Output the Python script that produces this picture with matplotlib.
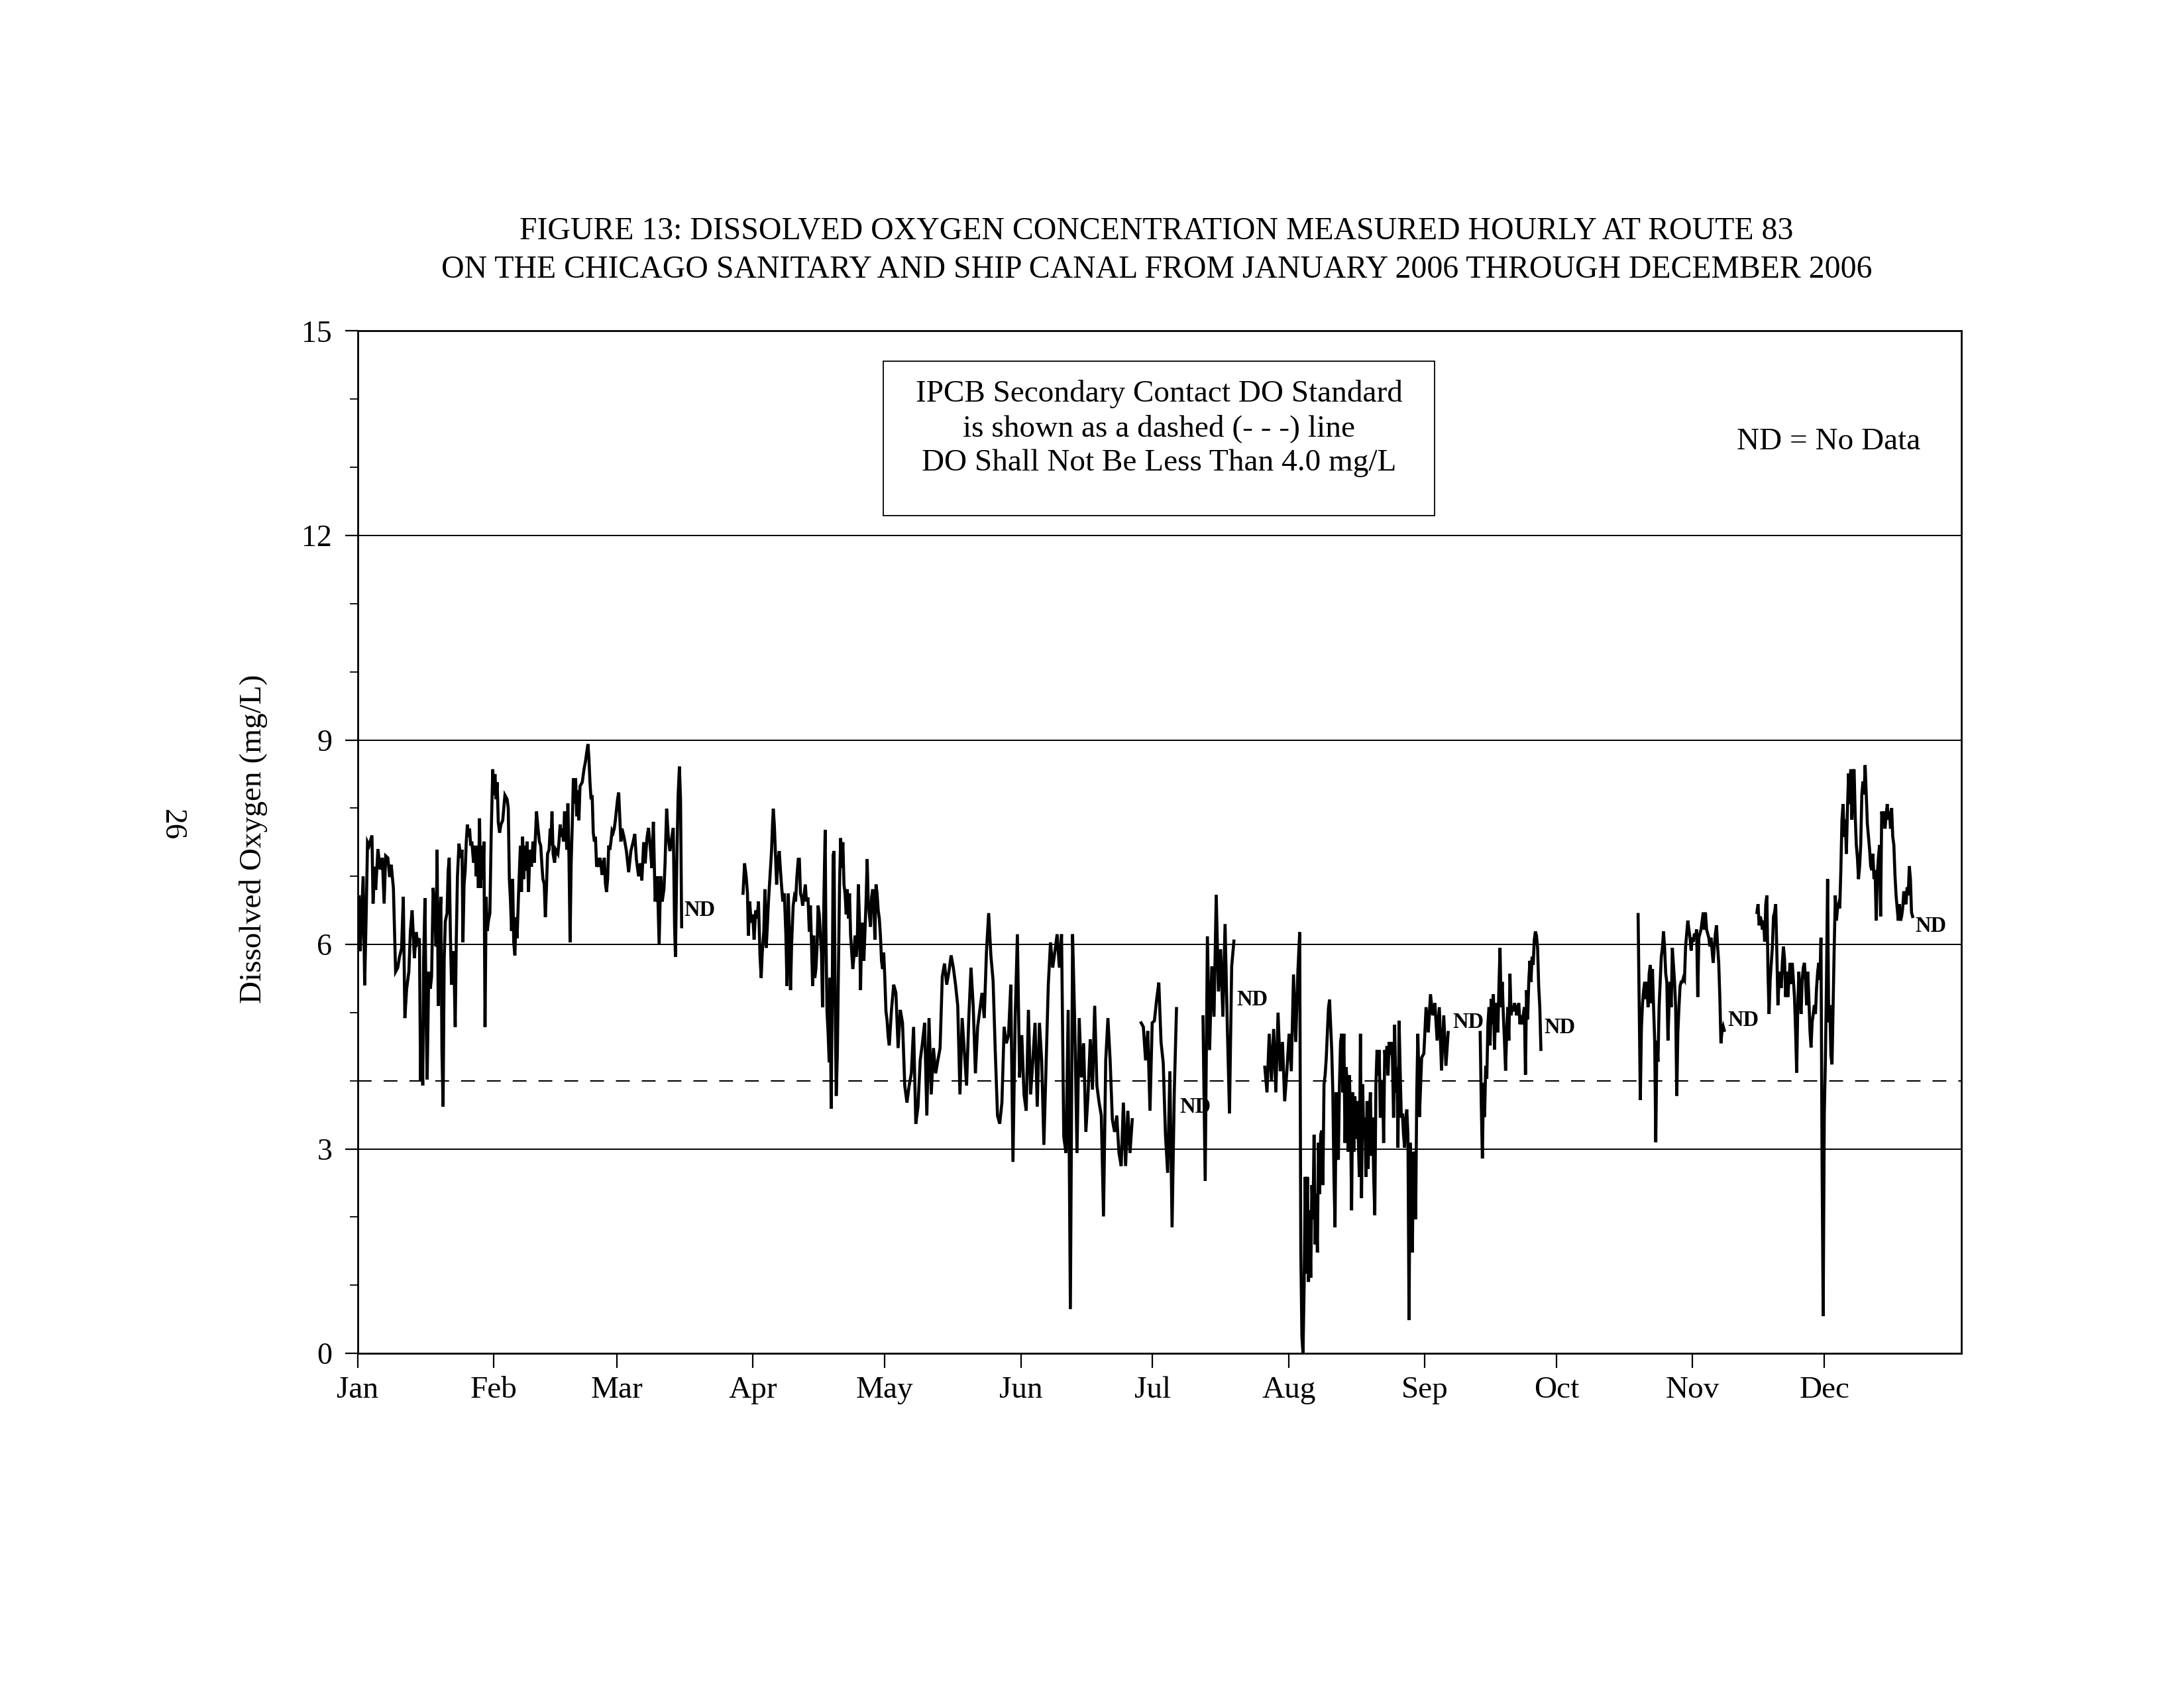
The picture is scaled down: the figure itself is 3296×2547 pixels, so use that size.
import numpy as np
import matplotlib
matplotlib.use('Agg')
import matplotlib.pyplot as plt
from matplotlib.patches import Rectangle

plt.rcParams['font.family'] = ['Liberation Serif', 'DejaVu Serif']

# ---------------- data ----------------
month_labels = ['Jan', 'Feb', 'Mar', 'Apr', 'May', 'Jun', 'Jul', 'Aug', 'Sep', 'Oct', 'Nov', 'Dec']
month_start_days = [0, 31, 59, 90, 120, 151, 181, 212, 243, 273, 304, 334]
y_major = [0, 3, 6, 9, 12, 15]
grid_levels = [3, 6, 9, 12]
do_standard = 4.0

# segment 1: Jan 1 - mid March  (day of year, DO mg/L)
seg1_pairs = [
    (0.30, 6.7), (0.55, 5.9), (1.21, 7.0), (1.56, 5.4), (1.91, 6.46), (2.21, 7.5), (2.57, 7.45), (3.22, 7.6),
    (3.47, 6.6), (3.82, 7.14), (4.07, 6.8), (4.58, 7.4), (5.08, 7.1), (5.58, 7.27), (5.99, 6.6), (6.34, 7.3),
    (6.84, 7.27), (7.24, 6.99), (7.60, 7.17), (8.10, 6.83), (8.60, 5.6), (9.10, 5.66), (9.46, 5.81), (9.96, 5.94),
    (10.36, 6.7), (10.71, 4.92), (11.12, 5.35), (11.62, 5.6), (11.97, 6.2), (12.37, 6.5), (12.88, 5.8), (13.28, 6.18),
    (13.63, 6.03), (14.03, 6.09), (14.29, 4.0), (14.49, 4.85), (14.79, 3.93), (14.99, 5.78), (15.29, 6.68), (15.54, 4.98),
    (15.79, 4.02), (16.15, 5.6), (16.50, 5.35), (16.80, 5.53), (17.15, 6.83), (17.51, 6.52), (17.81, 5.97), (18.06, 7.39),
    (18.31, 5.1), (18.66, 6.34), (18.91, 6.7), (19.16, 4.42), (19.42, 3.62), (19.67, 5.78), (19.92, 6.34), (20.32, 6.46),
    (20.57, 7.08), (20.82, 7.27), (21.08, 6.15), (21.33, 5.41), (21.68, 5.9), (21.93, 5.6), (22.18, 4.79), (22.43, 6.09),
    (22.69, 7.0), (23.04, 7.48), (23.44, 7.27), (23.74, 7.39), (23.94, 6.03), (24.20, 6.89), (24.45, 7.08), (24.70, 7.51),
    (24.95, 7.76), (25.20, 7.58), (25.45, 7.7), (25.70, 7.45), (25.96, 7.51), (26.36, 7.2), (26.71, 7.45), (26.96, 7.0),
    (27.21, 7.45), (27.46, 6.83), (27.72, 7.85), (27.97, 6.83), (28.22, 7.45), (28.47, 6.96), (28.72, 7.51), (28.97, 4.79),
    (29.23, 6.7), (29.48, 6.2), (29.73, 6.34), (30.08, 6.46), (30.38, 7.64), (30.73, 8.57), (30.99, 8.19), (31.24, 8.5),
    (31.49, 8.13), (31.74, 8.38), (31.99, 7.79), (32.29, 7.64), (32.60, 7.76), (33.00, 7.82), (33.50, 8.19), (34.00, 8.13),
    (34.26, 8.0), (34.51, 6.96), (34.76, 6.65), (35.01, 6.2), (35.26, 6.96), (35.51, 6.03), (35.77, 5.84), (36.02, 6.4),
    (36.27, 6.09), (36.62, 6.77), (37.02, 7.45), (37.27, 6.77), (37.53, 7.58), (37.78, 6.96), (38.03, 7.45), (38.33, 7.08),
    (38.53, 7.51), (38.88, 6.77), (39.19, 7.39), (39.54, 7.14), (39.89, 7.51), (40.19, 7.2), (40.44, 7.58), (40.69, 7.95),
    (41.05, 7.7), (41.35, 7.51), (41.65, 7.45), (41.95, 7.14), (42.15, 6.96), (42.45, 6.89), (42.71, 6.4), (42.96, 6.83),
    (43.21, 7.33), (43.56, 7.39), (43.81, 7.7), (43.96, 7.45), (44.22, 7.95), (44.47, 7.33), (44.82, 7.2), (45.07, 7.39),
    (45.57, 7.33), (45.82, 7.51), (46.08, 7.76), (46.33, 7.58), (46.58, 7.7), (46.83, 7.51), (47.08, 7.95), (47.33, 7.76),
    (47.59, 7.39), (47.84, 8.07), (48.09, 7.27), (48.34, 6.03), (48.59, 7.2), (48.84, 7.76), (49.09, 8.44), (49.35, 8.07),
    (49.60, 8.44), (49.85, 7.88), (50.10, 8.26), (50.35, 7.82), (50.60, 8.32), (51.11, 8.38), (51.51, 8.57), (51.86, 8.69),
    (52.11, 8.81), (52.41, 8.94), (52.62, 8.75), (52.87, 8.38), (53.12, 8.13), (53.37, 8.19), (53.62, 7.64), (53.87, 7.51),
    (54.12, 7.58), (54.38, 7.14), (54.63, 7.2), (54.88, 7.14), (55.13, 7.27), (55.38, 7.17), (55.63, 7.02), (55.89, 7.2),
    (56.14, 7.27), (56.39, 6.89), (56.64, 6.77), (56.89, 6.96), (57.14, 7.45), (57.39, 7.39), (57.65, 7.51), (57.90, 7.67),
    (58.15, 7.64), (58.40, 7.7), (58.65, 7.82), (58.90, 7.98), (59.15, 8.13), (59.41, 8.23), (59.66, 7.88), (59.91, 7.51),
    (60.16, 7.7), (60.67, 7.56), (61.17, 7.37), (61.68, 7.06), (62.18, 7.37), (62.68, 7.5), (63.08, 7.62), (63.44, 7.25),
    (63.94, 7.0), (64.34, 7.19), (64.69, 6.94), (65.10, 7.5), (65.45, 7.19), (65.85, 7.56), (66.20, 7.71), (66.60, 7.43),
    (66.96, 7.12), (67.31, 7.8), (67.71, 6.63), (68.21, 7.0), (68.62, 6.0), (68.97, 7.0), (69.32, 6.63), (69.72, 6.81),
    (69.97, 7.19), (70.33, 7.99), (70.73, 7.56), (71.08, 7.37), (71.48, 7.56), (71.84, 7.71), (72.14, 6.26), (72.34, 5.82),
    (72.64, 7.19), (72.94, 8.18), (73.24, 8.61), (73.50, 8.12), (73.75, 6.26),
]

# segment 2: end of March - late June (first part as pairs, then regular half-day readings)
seg2a_pairs = [
    (87.73, 6.75), (88.08, 7.19), (88.44, 7.0), (88.74, 6.75), (88.94, 6.13), (89.24, 6.63), (89.59, 6.32), (89.94, 6.44),
    (90.25, 6.07), (90.60, 6.5), (90.95, 6.38), (91.25, 6.63), (91.60, 5.82), (91.86, 5.51), (92.11, 5.88), (92.46, 6.19),
    (92.71, 6.81), (93.01, 5.95), (93.26, 6.26), (93.52, 6.63), (93.87, 7.0), (94.22, 7.37), (94.47, 7.8), (94.62, 7.99),
    (94.87, 7.74), (95.13, 7.31), (95.38, 6.88), (95.63, 7.19), (95.98, 7.37), (96.28, 7.06), (96.48, 6.88), (96.79, 6.63),
    (97.14, 6.75), (97.49, 6.13), (97.74, 5.39), (98.04, 6.75), (98.30, 6.13), (98.55, 5.33), (98.80, 6.01), (99.15, 6.57),
    (99.40, 6.69), (99.70, 6.63), (100.0, 7.0), (100.31, 7.25), (100.56, 7.25), (100.81, 6.75), (101.06, 6.69), (101.31, 6.57),
    (101.66, 6.75), (101.92, 6.88), (102.17, 6.63), (102.52, 6.69), (102.82, 6.19), (103.07, 6.57), (103.33, 6.01), (103.58, 5.39),
    (103.83, 6.13), (104.08, 5.51), (104.33, 5.64), (104.58, 5.95), (104.83, 6.57), (105.09, 6.44), (105.34, 6.13), (105.59, 5.88),
    (105.84, 5.08), (106.04, 6.26), (106.29, 7.19), (106.44, 7.68), (106.59, 6.26), (106.85, 5.02), (107.10, 4.71), (107.35, 4.27),
    (107.55, 5.51), (107.80, 3.59), (108.05, 5.33), (108.25, 7.31), (108.46, 7.37), (108.71, 5.14), (108.96, 3.78), (109.21, 4.4),
    (109.46, 5.64), (109.71, 6.88), (109.96, 7.56), (110.22, 7.12), (110.47, 7.5), (110.72, 6.88), (110.97, 6.75), (111.22, 6.44),
    (111.47, 6.81), (111.73, 6.38), (111.98, 6.75), (112.23, 6.13), (112.48, 5.88), (112.73, 5.64), (112.98, 5.82), (113.23, 6.13),
    (113.49, 5.82), (113.74, 6.01), (113.99, 6.88), (114.24, 6.38), (114.49, 5.33), (114.74, 6.19), (114.99, 6.32), (115.25, 5.76),
    (115.50, 6.19), (115.75, 6.63), (116.00, 7.25), (116.25, 6.63), (116.50, 6.44), (116.76, 6.26), (117.01, 6.69), (117.26, 6.81),
    (117.51, 6.63), (117.76, 6.07), (118.01, 6.88), (118.26, 6.75), (118.52, 6.5), (118.77, 6.38), (119.02, 6.13), (119.27, 5.76),
    (119.52, 5.64), (119.77, 5.88), (120.02, 5.51), (120.28, 5.02), (120.53, 4.89), (120.78, 4.65), (121.03, 4.52),
]
seg2b_start, seg2b_step = 121.54, 0.503
seg2b_do = [
    5.04, 5.41, 5.29, 4.48, 5.04, 4.85, 3.93, 3.68, 3.93, 4.11, 4.79, 3.37, 3.62, 4.3, 4.55, 4.85, 3.49, 4.92, 3.8, 4.48,
    4.11, 4.3, 4.48, 5.53, 5.72, 5.41, 5.6, 5.84, 5.66, 5.41, 5.1, 3.8, 4.92, 4.42, 3.93, 4.92, 5.66, 5.1, 4.11, 4.79,
    5.04, 5.29, 4.92, 5.9, 6.46, 5.84, 5.47, 4.42, 3.49, 3.37, 3.68, 4.79, 4.55, 4.67, 5.41, 2.81, 4.92, 6.15, 4.05, 4.67,
    3.8, 3.56, 5.04, 3.8, 4.3, 4.85, 3.62, 4.85, 4.3, 3.06, 4.24, 5.41, 6.03, 5.66, 5.9, 6.15, 5.66, 6.15, 3.18, 2.94,
    5.04, 0.65, 6.15, 4.79, 2.94, 4.92, 4.05, 4.55, 3.25, 3.8, 4.61, 3.87, 5.1, 3.93, 3.68, 3.49, 2.01, 4.3, 4.92, 4.3,
    3.43, 3.25, 3.49, 2.94, 2.75, 3.68, 2.75, 3.56, 2.94, 3.43,
]

# segment 3: early July
seg3_start, seg3_step = 178.40, 0.503
seg3_do = [4.85, 4.79, 4.3, 4.73, 3.56, 4.85, 4.88, 5.19, 5.44, 4.57, 4.26, 3.21, 2.65, 4.14, 1.85, 3.83, 5.06]

# segment 4: mid July
seg4_start, seg4_step = 192.48, 0.503
seg4_do = [4.94, 2.53, 6.12, 4.45, 5.68, 4.94, 6.73, 5.31, 5.93, 4.94, 6.3, 4.82, 3.52, 5.68, 6.05]

# segment 5: late July - early September
seg5a_start, seg5a_step = 206.56, 0.503
seg5a_do = [4.2, 3.83, 4.69, 4.01, 4.76, 3.83, 5.0, 4.14, 4.57, 3.7, 4.14, 4.69, 4.14, 5.56, 4.57, 5.62]
seg5b_start, seg5b_step = 214.51, 0.2515
seg5b_do = [
    6.18, 1.48, 0.24, 0.0, 0.98, 2.59, 1.17, 2.59, 1.05, 2.1, 1.11, 2.47, 1.97, 3.21, 1.6, 2.34, 1.48, 3.09, 2.34, 3.21,
    3.27, 2.47, 3.95, 4.08, 4.32, 4.69, 5.06, 5.19, 4.82, 4.45, 3.83, 2.59, 1.85, 3.83, 2.96, 2.84, 3.95, 4.57, 4.69, 3.83,
    4.69, 3.09, 4.2, 3.95, 2.96, 4.08, 3.46, 2.1, 3.83, 2.96, 3.77, 3.15, 3.7, 3.15, 2.59, 4.69, 2.28, 3.95, 3.15, 3.46,
    2.59, 3.7, 2.71, 3.46, 3.83, 2.9, 3.46, 2.59, 2.03, 3.95, 4.45, 4.08, 4.45, 3.46, 3.83, 4.01, 3.09, 4.45, 4.2, 4.51,
    4.08, 4.57, 4.38, 4.57, 4.32, 3.46, 4.82, 3.83, 4.2, 3.02, 4.88, 4.14, 3.46, 3.52, 3.21, 3.02, 3.46, 3.58, 3.21, 0.49,
    3.09, 2.59, 1.48, 2.96, 2.84, 1.97, 3.83, 4.69, 4.01,
]
seg5c_start, seg5c_step = 241.78, 0.503
seg5c_do = [3.47, 4.34, 4.4, 5.08, 4.71, 5.27, 4.96, 5.14, 4.59, 5.08, 4.15, 4.96, 4.22, 4.71]

# segment 6: mid - late September
seg6_start, seg6_step = 255.61, 0.2515
seg6_do = [
    4.71, 3.66, 2.86, 3.97, 3.47, 4.22, 4.03, 4.83, 5.08, 4.52, 5.2, 4.83, 5.27, 4.46, 5.08, 5.14, 4.71, 5.39, 5.95, 5.08,
    5.45, 4.96, 4.59, 4.15, 4.71, 5.08, 4.59, 5.57, 4.96, 5.08, 5.02, 5.14, 5.08, 4.96, 5.08, 5.14, 4.83, 4.96, 4.83, 4.96,
    5.08, 4.09, 5.33, 4.9, 5.45, 5.76, 5.45, 5.82, 5.7, 6.07, 6.19, 6.13, 5.95, 5.39, 5.08, 4.46,
]

# segment 7: late October - early November
seg7_start, seg7_step = 291.58, 0.2515
seg7_do = [
    6.44, 5.08, 3.72, 4.77, 5.14, 5.33, 5.45, 5.2, 5.45, 5.08, 5.57, 5.7, 5.14, 5.64, 5.08, 4.59, 3.1, 4.59, 4.28, 5.08,
    5.45, 5.82, 5.95, 6.19, 5.95, 5.57, 5.45, 4.59, 5.08, 5.45, 5.08, 5.95, 5.7, 5.45, 5.08, 3.78, 4.71, 5.08, 5.39, 5.45,
    5.45, 5.51, 5.48, 5.97, 6.16, 6.35, 6.22, 6.1, 5.91, 6.1, 6.04, 6.16, 6.1, 6.22, 5.23, 6.1, 6.16, 6.22, 6.35, 6.47,
    6.22, 6.47, 6.22, 6.16, 6.1, 5.97, 6.1, 5.91, 5.73, 5.97, 6.16, 6.28, 5.97, 5.73, 5.23, 4.55, 4.74, 4.8, 4.74,
]

# segment 8: mid November - late December
seg8_start, seg8_step = 318.64, 0.2515
seg8_do = [
    6.47, 6.59, 6.28, 6.41, 6.35, 6.22, 6.35, 6.04, 6.59, 6.72, 5.6, 4.98, 5.48, 5.73, 5.97, 6.41, 6.47, 6.59, 5.91, 5.11,
    5.48, 5.6, 5.36, 5.73, 5.97, 5.79, 5.23, 5.6, 5.23, 5.48, 5.73, 5.42, 5.73, 5.48, 5.23, 4.74, 4.12, 5.11, 5.6, 5.23,
    4.98, 5.48, 5.66, 5.73, 5.48, 5.11, 5.6, 5.23, 4.74, 4.49, 4.86, 4.98, 5.11, 4.98, 5.36, 5.6, 5.73, 5.48, 6.1, 2.76,
    0.55, 3.5, 4.3, 5.48, 6.96, 4.86, 5.11, 4.37, 4.24, 5.11, 5.97, 6.72, 6.35, 6.53, 6.59, 6.53, 7.09, 7.83, 8.06, 7.58,
    7.83, 7.33, 8.0, 8.51, 8.06, 8.57, 7.83, 8.51, 8.57, 7.89, 7.46, 7.27, 6.96, 7.15, 7.46, 8.2, 8.39, 8.2, 8.63, 8.2,
    7.77, 7.58, 7.4, 7.15, 7.09, 7.33, 6.96, 7.09, 6.35, 7.02, 7.27, 7.46, 6.41, 7.95, 7.77, 7.95, 7.7, 7.89, 8.06, 7.83,
    7.95, 7.7, 8.0, 7.58, 7.46, 7.02, 6.72, 6.53, 6.35, 6.59, 6.35, 6.41, 6.53, 6.78, 6.66, 6.59, 6.84, 6.72, 7.15, 6.96,
    6.47, 6.41,
]

# "ND" (no data) labels: left edge day, level
nd_days = [74.3, 187.2, 200.2, 249.3, 270.2, 311.95, 354.7]
nd_levels = [6.5, 3.61, 5.19, 4.86, 4.78, 4.89, 6.27]

title_lines = ['FIGURE 13: DISSOLVED OXYGEN CONCENTRATION MEASURED HOURLY AT ROUTE 83',
               'ON THE CHICAGO SANITARY AND SHIP CANAL FROM JANUARY 2006 THROUGH DECEMBER 2006']
box_lines = ['IPCB Secondary Contact DO Standard',
             'is shown as a dashed (- - -) line',
             'DO Shall Not Be Less Than 4.0 mg/L']


def regular(start, step, vals):
    return start + step * np.arange(len(vals)), np.asarray(vals, dtype=float)


def pairs(p):
    a = np.asarray(p, dtype=float)
    return a[:, 0], a[:, 1]


segments = []
segments.append(pairs(seg1_pairs))
x2a, y2a = pairs(seg2a_pairs)
x2b, y2b = regular(seg2b_start, seg2b_step, seg2b_do)
segments.append((np.concatenate([x2a, x2b]), np.concatenate([y2a, y2b])))
segments.append(regular(seg3_start, seg3_step, seg3_do))
segments.append(regular(seg4_start, seg4_step, seg4_do))
xa, ya = regular(seg5a_start, seg5a_step, seg5a_do)
xb, yb = regular(seg5b_start, seg5b_step, seg5b_do)
xc, yc = regular(seg5c_start, seg5c_step, seg5c_do)
segments.append((np.concatenate([xa, xb, xc]), np.concatenate([ya, yb, yc])))
segments.append(regular(seg6_start, seg6_step, seg6_do))
segments.append(regular(seg7_start, seg7_step, seg7_do))
segments.append(regular(seg8_start, seg8_step, seg8_do))

# ---------------- figure ----------------
fig = plt.figure(figsize=(32.96, 25.47), dpi=100)
fig.patch.set_facecolor('white')
ax = fig.add_axes([0.16384, 0.1982, 0.73422, 0.6057])

for lvl in grid_levels:
    ax.axhline(lvl, color='black', lw=1.4, zorder=1)
ax.axhline(do_standard, color='black', lw=1.5, linestyle=(0, (10, 8.7)), zorder=1)

for xs, ys in segments:
    ax.plot(xs, ys, color='black', lw=3.3, solid_joinstyle='miter', zorder=3)

for d, lv in zip(nd_days, nd_levels):
    ax.text(d, lv, 'ND', ha='left', va='center', fontsize=23.5, fontweight='bold', zorder=4)

ax.set_xlim(0, 365.2)
ax.set_ylim(0, 15)
ax.set_xticks(month_start_days)
ax.set_xticklabels(month_labels)
ax.set_yticks(y_major)
ax.set_yticks(range(0, 16), minor=True)
ax.tick_params(axis='x', which='major', direction='out', length=16, width=1.6, pad=9,
               labelsize=34, top=False)
ax.tick_params(axis='y', which='major', direction='out', length=14, width=1.6, pad=14,
               labelsize=33, right=False)
ax.tick_params(axis='y', which='minor', direction='out', length=8.5, width=1.3, right=False)
for sp in ax.spines.values():
    sp.set_linewidth(2.0)

# legend-like text box
ax.add_patch(Rectangle((0.3277, 0.8196), 0.6715 - 0.3277, 0.9706 - 0.8196, transform=ax.transAxes,
                       fill=False, edgecolor='black', lw=1.3, zorder=5))
for txt, yb_ in zip(box_lines, [0.9310, 0.8973, 0.8636]):
    ax.text(0.4996, yb_, txt, transform=ax.transAxes, ha='center', va='baseline', fontsize=34, zorder=6)
ax.text(0.9174, 0.8844, 'ND = No Data', transform=ax.transAxes, ha='center', va='baseline', fontsize=34)

# titles and side labels
fig.text(0.5296, 0.8585, title_lines[0], ha='center', va='baseline', fontsize=34.4)
fig.text(0.5296, 0.8353, title_lines[1], ha='center', va='baseline', fontsize=34.4)
fig.text(0.1159, 0.5029, 'Dissolved Oxygen (mg/L)', rotation=90, ha='center', va='center', fontsize=34)
fig.text(0.0786, 0.5112, '26', rotation=-90, ha='center', va='center', fontsize=34)

fig.savefig('out.png', dpi=100, facecolor='white')
